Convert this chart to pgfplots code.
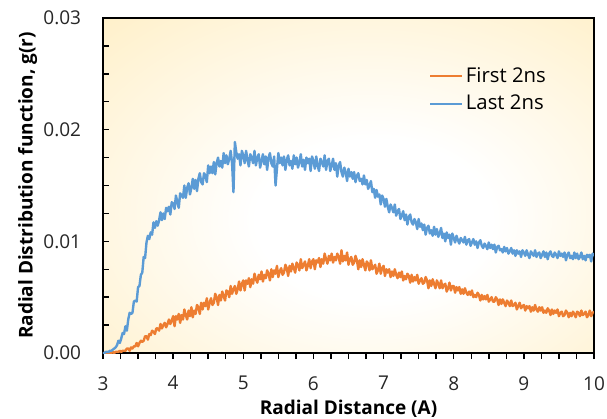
\documentclass[border=0pt]{standalone}
\usepackage{fontspec}
\setmainfont{Open Sans}
\usepackage{pgfplots}
\usepackage{pgfplotstable}
\pgfplotsset{compat=1.18}

\definecolor{firstc}{HTML}{ED7D31}
\definecolor{lastc}{HTML}{5B9BD5}
\definecolor{bgmid}{HTML}{FFEAB4}
\definecolor{bgedge}{HTML}{FFE192}
\pgfdeclareradialshading{bgshade}{\pgfpoint{3bp}{-6bp}}{color(0bp)=(white); color(12bp)=(white); color(50bp)=(bgmid); color(72bp)=(bgedge); color(85bp)=(bgedge)}

% r, g(r) first 2ns, g(r) last 2ns
\pgfplotstableread[row sep=\\]{
r first last\\
3.00 0.0000 0.0000\\ 3.02 0.0000 0.0000\\ 3.04 0.0000 0.0001\\ 3.06 0.0000 0.0001\\ 3.08 0.0000 0.0001\\
3.10 0.0000 0.0002\\ 3.12 0.0000 0.0002\\ 3.14 0.0001 0.0003\\ 3.16 0.0000 0.0004\\ 3.18 0.0001 0.0005\\
3.20 0.0001 0.0007\\ 3.22 0.0001 0.0011\\ 3.24 0.0002 0.0009\\ 3.26 0.0001 0.0013\\ 3.28 0.0002 0.0018\\
3.30 0.0002 0.0017\\ 3.32 0.0002 0.0024\\ 3.34 0.0004 0.0020\\ 3.36 0.0004 0.0030\\ 3.38 0.0002 0.0036\\
3.40 0.0005 0.0035\\ 3.42 0.0004 0.0036\\ 3.44 0.0006 0.0046\\ 3.46 0.0006 0.0047\\ 3.48 0.0009 0.0046\\
3.50 0.0006 0.0059\\ 3.52 0.0009 0.0060\\ 3.54 0.0011 0.0070\\ 3.56 0.0010 0.0072\\ 3.58 0.0011 0.0086\\
3.60 0.0015 0.0085\\ 3.62 0.0015 0.0099\\ 3.64 0.0012 0.0105\\ 3.66 0.0017 0.0102\\ 3.68 0.0016 0.0108\\
3.70 0.0020 0.0106\\ 3.72 0.0019 0.0117\\ 3.74 0.0017 0.0112\\ 3.76 0.0022 0.0118\\ 3.78 0.0022 0.0114\\
3.80 0.0020 0.0119\\ 3.82 0.0026 0.0126\\ 3.84 0.0022 0.0119\\ 3.86 0.0025 0.0125\\ 3.88 0.0027 0.0120\\
3.90 0.0023 0.0130\\ 3.92 0.0026 0.0127\\ 3.94 0.0030 0.0131\\ 3.96 0.0026 0.0124\\ 3.98 0.0029 0.0135\\
4.00 0.0033 0.0134\\ 4.02 0.0024 0.0129\\ 4.04 0.0033 0.0141\\ 4.06 0.0030 0.0135\\ 4.08 0.0035 0.0130\\
4.10 0.0027 0.0143\\ 4.12 0.0034 0.0141\\ 4.14 0.0030 0.0139\\ 4.16 0.0039 0.0150\\ 4.18 0.0034 0.0139\\
4.20 0.0030 0.0148\\ 4.22 0.0038 0.0152\\ 4.24 0.0033 0.0142\\ 4.26 0.0041 0.0148\\ 4.28 0.0032 0.0156\\
4.30 0.0038 0.0147\\ 4.32 0.0035 0.0155\\ 4.34 0.0043 0.0145\\ 4.36 0.0041 0.0156\\ 4.38 0.0035 0.0161\\
4.40 0.0045 0.0153\\ 4.42 0.0039 0.0151\\ 4.44 0.0045 0.0161\\ 4.46 0.0042 0.0159\\ 4.48 0.0049 0.0153\\
4.50 0.0039 0.0168\\ 4.52 0.0045 0.0161\\ 4.54 0.0049 0.0167\\ 4.56 0.0043 0.0161\\ 4.58 0.0045 0.0171\\
4.60 0.0053 0.0160\\ 4.62 0.0050 0.0170\\ 4.64 0.0043 0.0175\\ 4.66 0.0052 0.0167\\ 4.68 0.0047 0.0172\\
4.70 0.0055 0.0166\\ 4.72 0.0051 0.0179\\ 4.74 0.0047 0.0170\\ 4.76 0.0056 0.0177\\ 4.78 0.0055 0.0169\\
4.80 0.0050 0.0174\\ 4.82 0.0060 0.0181\\ 4.84 0.0053 0.0170\\ 4.86 0.0057 0.0144\\ 4.88 0.0060 0.0189\\
4.90 0.0053 0.0180\\ 4.92 0.0057 0.0174\\ 4.94 0.0064 0.0178\\ 4.96 0.0056 0.0168\\ 4.98 0.0062 0.0181\\
5.00 0.0065 0.0177\\ 5.02 0.0056 0.0170\\ 5.04 0.0065 0.0181\\ 5.06 0.0062 0.0173\\ 5.08 0.0067 0.0167\\
5.10 0.0059 0.0178\\ 5.12 0.0066 0.0175\\ 5.14 0.0062 0.0170\\ 5.16 0.0071 0.0181\\ 5.18 0.0066 0.0168\\
5.20 0.0063 0.0175\\ 5.22 0.0070 0.0178\\ 5.24 0.0066 0.0166\\ 5.26 0.0073 0.0172\\ 5.28 0.0064 0.0178\\
5.30 0.0070 0.0169\\ 5.32 0.0067 0.0176\\ 5.34 0.0074 0.0164\\ 5.36 0.0071 0.0175\\ 5.38 0.0065 0.0179\\
5.40 0.0075 0.0170\\ 5.42 0.0068 0.0167\\ 5.44 0.0074 0.0176\\ 5.46 0.0071 0.0150\\ 5.48 0.0078 0.0165\\
5.50 0.0068 0.0179\\ 5.52 0.0073 0.0170\\ 5.54 0.0076 0.0175\\ 5.56 0.0070 0.0168\\ 5.58 0.0072 0.0176\\
5.60 0.0079 0.0164\\ 5.62 0.0076 0.0173\\ 5.64 0.0069 0.0177\\ 5.66 0.0078 0.0168\\ 5.68 0.0073 0.0172\\
5.70 0.0080 0.0165\\ 5.72 0.0076 0.0177\\ 5.74 0.0072 0.0169\\ 5.76 0.0081 0.0175\\ 5.78 0.0079 0.0166\\
5.80 0.0074 0.0171\\ 5.82 0.0084 0.0178\\ 5.84 0.0076 0.0167\\ 5.86 0.0079 0.0173\\ 5.88 0.0082 0.0164\\
5.90 0.0074 0.0175\\ 5.92 0.0078 0.0170\\ 5.94 0.0084 0.0174\\ 5.96 0.0076 0.0163\\ 5.98 0.0082 0.0176\\
6.00 0.0084 0.0172\\ 6.02 0.0075 0.0165\\ 6.04 0.0083 0.0176\\ 6.06 0.0081 0.0168\\ 6.08 0.0085 0.0163\\
6.10 0.0077 0.0174\\ 6.12 0.0084 0.0171\\ 6.14 0.0080 0.0167\\ 6.16 0.0089 0.0177\\ 6.18 0.0084 0.0164\\
6.20 0.0080 0.0172\\ 6.22 0.0087 0.0174\\ 6.24 0.0083 0.0163\\ 6.26 0.0089 0.0168\\ 6.28 0.0081 0.0174\\
6.30 0.0086 0.0164\\ 6.32 0.0083 0.0170\\ 6.34 0.0089 0.0158\\ 6.36 0.0086 0.0168\\ 6.38 0.0080 0.0171\\
6.40 0.0092 0.0162\\ 6.42 0.0082 0.0158\\ 6.44 0.0087 0.0166\\ 6.46 0.0083 0.0162\\ 6.48 0.0090 0.0154\\
6.50 0.0079 0.0165\\ 6.52 0.0084 0.0158\\ 6.54 0.0086 0.0162\\ 6.56 0.0079 0.0156\\ 6.58 0.0081 0.0162\\
6.60 0.0087 0.0153\\ 6.62 0.0083 0.0159\\ 6.64 0.0075 0.0161\\ 6.66 0.0083 0.0154\\ 6.68 0.0077 0.0156\\
6.70 0.0084 0.0151\\ 6.72 0.0079 0.0159\\ 6.74 0.0074 0.0151\\ 6.76 0.0082 0.0155\\ 6.78 0.0080 0.0147\\
6.80 0.0074 0.0150\\ 6.82 0.0083 0.0154\\ 6.84 0.0075 0.0144\\ 6.86 0.0077 0.0147\\ 6.88 0.0079 0.0139\\
6.90 0.0071 0.0146\\ 6.92 0.0074 0.0140\\ 6.94 0.0080 0.0142\\ 6.96 0.0071 0.0133\\ 6.98 0.0076 0.0141\\
7.00 0.0078 0.0138\\ 7.02 0.0069 0.0131\\ 7.04 0.0075 0.0138\\ 7.06 0.0072 0.0131\\ 7.08 0.0075 0.0126\\
7.10 0.0068 0.0133\\ 7.12 0.0073 0.0130\\ 7.14 0.0069 0.0126\\ 7.16 0.0075 0.0133\\ 7.18 0.0070 0.0123\\
7.20 0.0067 0.0127\\ 7.22 0.0072 0.0129\\ 7.24 0.0068 0.0120\\ 7.26 0.0073 0.0123\\ 7.28 0.0065 0.0127\\
7.30 0.0069 0.0119\\ 7.32 0.0066 0.0124\\ 7.34 0.0071 0.0115\\ 7.36 0.0069 0.0122\\ 7.38 0.0063 0.0124\\
7.40 0.0070 0.0117\\ 7.42 0.0064 0.0115\\ 7.44 0.0068 0.0120\\ 7.46 0.0065 0.0117\\ 7.48 0.0070 0.0111\\
7.50 0.0062 0.0120\\ 7.52 0.0065 0.0113\\ 7.54 0.0067 0.0116\\ 7.56 0.0062 0.0110\\ 7.58 0.0063 0.0115\\
7.60 0.0068 0.0106\\ 7.62 0.0065 0.0112\\ 7.64 0.0058 0.0114\\ 7.66 0.0065 0.0107\\ 7.68 0.0060 0.0110\\
7.70 0.0066 0.0105\\ 7.72 0.0062 0.0113\\ 7.74 0.0058 0.0106\\ 7.76 0.0065 0.0111\\ 7.78 0.0062 0.0104\\
7.80 0.0058 0.0107\\ 7.82 0.0065 0.0112\\ 7.84 0.0058 0.0103\\ 7.86 0.0061 0.0107\\ 7.88 0.0062 0.0100\\
7.90 0.0055 0.0108\\ 7.92 0.0058 0.0103\\ 7.94 0.0063 0.0106\\ 7.96 0.0056 0.0097\\ 7.98 0.0060 0.0107\\
8.00 0.0060 0.0103\\ 8.02 0.0054 0.0099\\ 8.04 0.0059 0.0105\\ 8.06 0.0056 0.0101\\ 8.08 0.0059 0.0098\\
8.10 0.0053 0.0103\\ 8.12 0.0057 0.0101\\ 8.14 0.0053 0.0099\\ 8.16 0.0058 0.0104\\ 8.18 0.0054 0.0097\\
8.20 0.0052 0.0101\\ 8.22 0.0055 0.0102\\ 8.24 0.0052 0.0096\\ 8.26 0.0056 0.0099\\ 8.28 0.0050 0.0102\\
8.30 0.0052 0.0097\\ 8.32 0.0050 0.0100\\ 8.34 0.0054 0.0094\\ 8.36 0.0052 0.0099\\ 8.38 0.0047 0.0101\\
8.40 0.0052 0.0096\\ 8.42 0.0048 0.0094\\ 8.44 0.0051 0.0098\\ 8.46 0.0048 0.0096\\ 8.48 0.0052 0.0093\\
8.50 0.0046 0.0099\\ 8.52 0.0048 0.0094\\ 8.54 0.0050 0.0097\\ 8.56 0.0046 0.0093\\ 8.58 0.0046 0.0097\\
8.60 0.0050 0.0090\\ 8.62 0.0048 0.0095\\ 8.64 0.0043 0.0096\\ 8.66 0.0048 0.0092\\ 8.68 0.0044 0.0093\\
8.70 0.0048 0.0090\\ 8.72 0.0045 0.0095\\ 8.74 0.0042 0.0091\\ 8.76 0.0047 0.0094\\ 8.78 0.0045 0.0089\\
8.80 0.0042 0.0091\\ 8.82 0.0047 0.0094\\ 8.84 0.0042 0.0089\\ 8.86 0.0043 0.0092\\ 8.88 0.0045 0.0087\\
8.90 0.0039 0.0092\\ 8.92 0.0042 0.0089\\ 8.94 0.0045 0.0091\\ 8.96 0.0040 0.0086\\ 8.98 0.0042 0.0092\\
9.00 0.0043 0.0090\\ 9.02 0.0038 0.0087\\ 9.04 0.0042 0.0092\\ 9.06 0.0040 0.0088\\ 9.08 0.0042 0.0085\\
9.10 0.0037 0.0091\\ 9.12 0.0041 0.0089\\ 9.14 0.0038 0.0087\\ 9.16 0.0043 0.0092\\ 9.18 0.0039 0.0086\\
9.20 0.0037 0.0089\\ 9.22 0.0041 0.0090\\ 9.24 0.0038 0.0085\\ 9.26 0.0041 0.0088\\ 9.28 0.0036 0.0091\\
9.30 0.0038 0.0086\\ 9.32 0.0036 0.0090\\ 9.34 0.0040 0.0084\\ 9.36 0.0038 0.0089\\ 9.38 0.0034 0.0091\\
9.40 0.0039 0.0087\\ 9.42 0.0035 0.0086\\ 9.44 0.0038 0.0090\\ 9.46 0.0036 0.0088\\ 9.48 0.0039 0.0085\\
9.50 0.0033 0.0091\\ 9.52 0.0036 0.0087\\ 9.54 0.0037 0.0089\\ 9.56 0.0033 0.0086\\ 9.58 0.0034 0.0090\\
9.60 0.0038 0.0083\\ 9.62 0.0036 0.0088\\ 9.64 0.0032 0.0090\\ 9.66 0.0036 0.0085\\ 9.68 0.0033 0.0087\\
9.70 0.0037 0.0084\\ 9.72 0.0035 0.0090\\ 9.74 0.0032 0.0085\\ 9.76 0.0037 0.0089\\ 9.78 0.0036 0.0084\\
9.80 0.0033 0.0086\\ 9.82 0.0038 0.0090\\ 9.84 0.0034 0.0084\\ 9.86 0.0035 0.0087\\ 9.88 0.0037 0.0083\\
9.90 0.0032 0.0088\\ 9.92 0.0034 0.0086\\ 9.94 0.0038 0.0088\\ 9.96 0.0033 0.0082\\ 9.98 0.0036 0.0089\\
10.00 0.0037 0.0087\\
}\rdf

\begin{document}
\fontsize{14.25}{17}\selectfont
\begin{tikzpicture}
\path[use as bounding box] (-77.25pt,-48.75pt) rectangle (378pt,264.75pt);
\begin{axis}[
at={(0pt,0pt)}, anchor=south west,
scale only axis,
width=368.25pt, height=251.25pt,
xmin=3, xmax=10, ymin=0, ymax=0.03,
xtick={3,4,5,6,7,8,9,10},
ytick={0,0.01,0.02,0.03},
minor tick num=3,
tick pos=left,
tick align=outside,
major tick length=4.5pt, minor tick length=4.5pt,
tick style={black, line width=1.1pt},
y tick style={xshift=4.5pt},
axis line style={black, line width=1.6pt},
axis background/.style={shading=bgshade},
scaled y ticks=false,
/pgf/number format/assume math mode=true,
yticklabel style={/pgf/number format/fixed, /pgf/number format/fixed zerofill, /pgf/number format/precision=2, xshift=-7pt},
xticklabel style={yshift=-8pt},
ticklabel style={text=black!85},
xlabel={Radial Distance (A)},
ylabel={Radial Distribution function, g(r)},
label style={font=\bfseries},
xlabel shift=-2pt,
ylabel shift=-5pt,
legend cell align=left,
legend style={at={(0.655,0.87)}, anchor=north west, draw=none, fill=none, row sep=3.5pt,
  font=\fontsize{15.25}{18}\selectfont},
legend image code/.code={\draw[#1] (0pt,0pt) -- (24pt,0pt);},
]
\addplot[color=firstc, line width=1.8pt, line join=round] table[x=r, y=first] {\rdf};
\addlegendentry{First 2ns}
\addplot[color=lastc, line width=1.8pt, line join=round] table[x=r, y=last] {\rdf};
\addlegendentry{Last 2ns}
\end{axis}
\end{tikzpicture}
\end{document}
